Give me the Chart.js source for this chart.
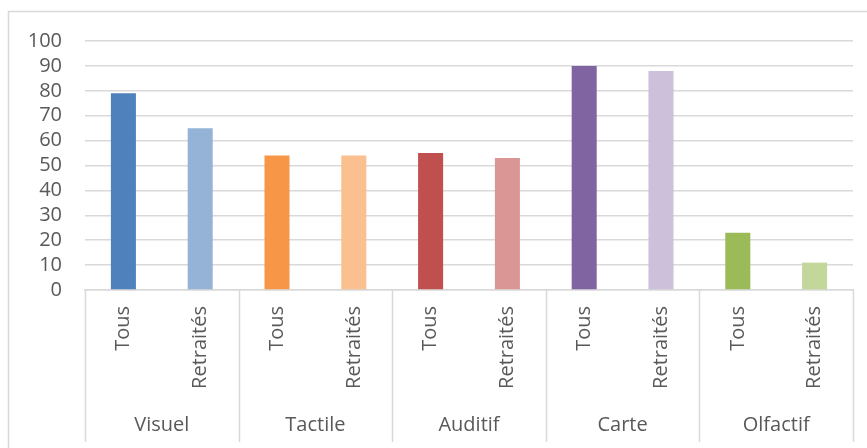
<!DOCTYPE html>
<html>
<head>
<meta charset="utf-8">
<script src="https://cdn.jsdelivr.net/npm/chart.js@4/dist/chart.umd.min.js"></script>
<style>
  html, body { margin: 0; padding: 0; background: #ffffff; }
  #wrap { width: 867px; height: 448px; position: relative; }
</style>
</head>
<body>
<div id="wrap"><canvas id="c" width="867" height="448"></canvas></div>
<script>
// ---- data ----
const groups = ['Visuel', 'Tactile', 'Auditif', 'Carte', 'Olfactif'];
const subLabels = ['Tous', 'Retraités'];
const tousValues = [79, 54, 55, 90, 23];
const retraitesValues = [65, 54, 53, 88, 11];
const yTicks = [0, 10, 20, 30, 40, 50, 60, 70, 80, 90, 100];

// ---- styles ----
const barColors = ['#4F81BD', '#95B3D7', '#F79646', '#FAC090', '#C0504D',
                   '#DA9694', '#8064A2', '#CCC0DA', '#9BBB59', '#C4D79B'];
const gridColor = '#D9D9D9';
const textColor = '#595959';
const fontFamily = '"Open Sans", "Liberation Sans", sans-serif';

// build flat category list from groups x subLabels
const labels = [];
const values = [];
groups.forEach((g, i) => {
  labels.push(subLabels[0]); values.push(tousValues[i]);
  labels.push(subLabels[1]); values.push(retraitesValues[i]);
});

const framePlugin = {
  id: 'frame',
  afterDraw(chart) {
    const { ctx, chartArea, scales } = chart;
    const x = scales.x;
    const step = x.getPixelForValue(1) - x.getPixelForValue(0);
    const start = x.getPixelForValue(0) - step / 2;
    const per = subLabels.length;
    ctx.save();
    ctx.strokeStyle = gridColor;
    ctx.lineWidth = 1.5;
    for (let g = 0; g <= groups.length; g++) {
      const px = Math.round(start + g * per * step) + 0.5;
      ctx.beginPath();
      ctx.moveTo(px, chartArea.bottom);
      ctx.lineTo(px, chart.height - 6);
      ctx.stroke();
    }
    // outer chart frame
    ctx.beginPath();
    ctx.moveTo(8.5, chart.height);
    ctx.lineTo(8.5, 11.5);
    ctx.lineTo(chart.width, 11.5);
    ctx.stroke();
    ctx.restore();
  }
};

new Chart(document.getElementById('c'), {
  type: 'bar',
  data: {
    labels: labels,
    datasets: [{
      data: values,
      backgroundColor: barColors,
      borderWidth: 0,
      barPercentage: 0.326,
      categoryPercentage: 1.0
    }]
  },
  options: {
    responsive: false,
    animation: false,
    devicePixelRatio: 1,
    layout: { padding: { top: 41, right: 14, left: 0, bottom: 0 } },
    plugins: {
      legend: { display: false },
      tooltip: { enabled: false },
      title: { display: false }
    },
    scales: {
      y: {
        min: 0,
        max: 100,
        afterBuildTicks(scale) { scale.ticks = yTicks.map(v => ({ value: v })); },
        afterFit(scale) { scale.width = 85; },
        grid: { color: gridColor, lineWidth: 1.5, drawTicks: false },
        border: { display: false },
        ticks: {
          color: textColor,
          font: { family: fontFamily, size: 20 },
          padding: 23,
          autoSkip: false
        }
      },
      x: {
        type: 'category',
        offset: true,
        afterFit(scale) { scale.height = 112; },
        grid: { display: false, drawTicks: false },
        border: { display: true, color: gridColor, width: 1.5 },
        ticks: {
          color: textColor,
          font: { family: fontFamily, size: 20 },
          minRotation: 90,
          maxRotation: 90,
          autoSkip: false,
          padding: 16
        }
      },
      x2: {
        type: 'category',
        labels: groups,
        position: 'bottom',
        offset: true,
        afterFit(scale) { scale.height = 46; },
        grid: { display: false, drawTicks: false },
        border: { display: false },
        ticks: {
          color: textColor,
          font: { family: fontFamily, size: 20 },
          maxRotation: 0,
          autoSkip: false,
          padding: 11
        }
      }
    }
  },
  plugins: [framePlugin]
});
</script>
</body>
</html>
